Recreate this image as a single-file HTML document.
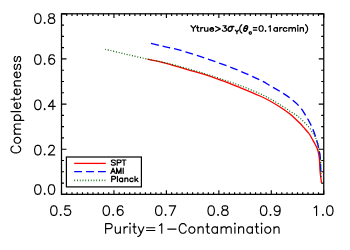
<!DOCTYPE html>
<html><head><meta charset="utf-8"><title>Completeness vs Purity</title>
<style>html,body{margin:0;padding:0;background:#fff;font-family:"Liberation Sans",sans-serif;}svg{display:block}</style>
</head><body>
<svg width="350" height="250" viewBox="0 0 350 250">
<rect x="0" y="0" width="350" height="250" fill="#fff"/>
<path d="M61.50 194.35 V190.25 M61.50 13.80 V17.90 M66.75 194.35 V192.20 M66.75 13.80 V15.95 M71.99 194.35 V192.20 M71.99 13.80 V15.95 M77.24 194.35 V192.20 M77.24 13.80 V15.95 M82.48 194.35 V192.20 M82.48 13.80 V15.95 M87.73 194.35 V192.20 M87.73 13.80 V15.95 M92.97 194.35 V192.20 M92.97 13.80 V15.95 M98.22 194.35 V192.20 M98.22 13.80 V15.95 M103.46 194.35 V192.20 M103.46 13.80 V15.95 M108.70 194.35 V192.20 M108.70 13.80 V15.95 M113.95 194.35 V190.25 M113.95 13.80 V17.90 M119.19 194.35 V192.20 M119.19 13.80 V15.95 M124.44 194.35 V192.20 M124.44 13.80 V15.95 M129.69 194.35 V192.20 M129.69 13.80 V15.95 M134.93 194.35 V192.20 M134.93 13.80 V15.95 M140.18 194.35 V192.20 M140.18 13.80 V15.95 M145.42 194.35 V192.20 M145.42 13.80 V15.95 M150.67 194.35 V192.20 M150.67 13.80 V15.95 M155.91 194.35 V192.20 M155.91 13.80 V15.95 M161.15 194.35 V192.20 M161.15 13.80 V15.95 M166.40 194.35 V190.25 M166.40 13.80 V17.90 M171.64 194.35 V192.20 M171.64 13.80 V15.95 M176.89 194.35 V192.20 M176.89 13.80 V15.95 M182.13 194.35 V192.20 M182.13 13.80 V15.95 M187.38 194.35 V192.20 M187.38 13.80 V15.95 M192.62 194.35 V192.20 M192.62 13.80 V15.95 M197.87 194.35 V192.20 M197.87 13.80 V15.95 M203.12 194.35 V192.20 M203.12 13.80 V15.95 M208.36 194.35 V192.20 M208.36 13.80 V15.95 M213.61 194.35 V192.20 M213.61 13.80 V15.95 M218.85 194.35 V190.25 M218.85 13.80 V17.90 M224.10 194.35 V192.20 M224.10 13.80 V15.95 M229.34 194.35 V192.20 M229.34 13.80 V15.95 M234.59 194.35 V192.20 M234.59 13.80 V15.95 M239.83 194.35 V192.20 M239.83 13.80 V15.95 M245.08 194.35 V192.20 M245.08 13.80 V15.95 M250.32 194.35 V192.20 M250.32 13.80 V15.95 M255.56 194.35 V192.20 M255.56 13.80 V15.95 M260.81 194.35 V192.20 M260.81 13.80 V15.95 M266.06 194.35 V192.20 M266.06 13.80 V15.95 M271.30 194.35 V190.25 M271.30 13.80 V17.90 M276.55 194.35 V192.20 M276.55 13.80 V15.95 M281.79 194.35 V192.20 M281.79 13.80 V15.95 M287.03 194.35 V192.20 M287.03 13.80 V15.95 M292.28 194.35 V192.20 M292.28 13.80 V15.95 M297.52 194.35 V192.20 M297.52 13.80 V15.95 M302.77 194.35 V192.20 M302.77 13.80 V15.95 M308.01 194.35 V192.20 M308.01 13.80 V15.95 M313.26 194.35 V192.20 M313.26 13.80 V15.95 M318.50 194.35 V192.20 M318.50 13.80 V15.95 M323.75 194.35 V190.25 M323.75 13.80 V17.90 M61.50 194.35 H66.50 M323.75 194.35 H318.75 M61.50 183.07 H64.00 M323.75 183.07 H321.25 M61.50 171.78 H64.00 M323.75 171.78 H321.25 M61.50 160.50 H64.00 M323.75 160.50 H321.25 M61.50 149.21 H66.50 M323.75 149.21 H318.75 M61.50 137.93 H64.00 M323.75 137.93 H321.25 M61.50 126.64 H64.00 M323.75 126.64 H321.25 M61.50 115.36 H64.00 M323.75 115.36 H321.25 M61.50 104.08 H66.50 M323.75 104.08 H318.75 M61.50 92.79 H64.00 M323.75 92.79 H321.25 M61.50 81.51 H64.00 M323.75 81.51 H321.25 M61.50 70.22 H64.00 M323.75 70.22 H321.25 M61.50 58.94 H66.50 M323.75 58.94 H318.75 M61.50 47.65 H64.00 M323.75 47.65 H321.25 M61.50 36.37 H64.00 M323.75 36.37 H321.25 M61.50 25.08 H64.00 M323.75 25.08 H321.25 M61.50 13.80 H66.50 M323.75 13.80 H318.75" stroke="#000" stroke-width="1.15" fill="none"/>
<rect x="61.50" y="13.80" width="262.25" height="180.55" fill="none" stroke="#000" stroke-width="1.25"/>
<path transform="translate(60.70 215.40)" d="M-7.31 -9.60 L-8.68 -9.14 L-9.60 -7.77 L-10.05 -5.48 L-10.05 -4.11 L-9.60 -1.83 L-8.68 -0.46 L-7.31 0.00 L-6.40 0.00 L-5.03 -0.46 L-4.11 -1.83 L-3.66 -4.11 L-3.66 -5.48 L-4.11 -7.77 L-5.03 -9.14 L-6.40 -9.60 L-7.31 -9.60 M0.00 -0.91 L-0.46 -0.46 L0.00 0.00 L0.46 -0.46 L0.00 -0.91 M9.14 -9.60 L4.57 -9.60 L4.11 -5.48 L4.57 -5.94 L5.94 -6.40 L7.31 -6.40 L8.68 -5.94 L9.60 -5.03 L10.05 -3.66 L10.05 -2.74 L9.60 -1.37 L8.68 -0.46 L7.31 0.00 L5.94 0.00 L4.57 -0.46 L4.11 -0.91 L3.66 -1.83" fill="none" stroke="#000" stroke-width="1.15" stroke-linecap="round" stroke-linejoin="round"/>
<path transform="translate(113.15 215.40)" d="M-7.31 -9.60 L-8.68 -9.14 L-9.60 -7.77 L-10.05 -5.48 L-10.05 -4.11 L-9.60 -1.83 L-8.68 -0.46 L-7.31 0.00 L-6.40 0.00 L-5.03 -0.46 L-4.11 -1.83 L-3.66 -4.11 L-3.66 -5.48 L-4.11 -7.77 L-5.03 -9.14 L-6.40 -9.60 L-7.31 -9.60 M0.00 -0.91 L-0.46 -0.46 L0.00 0.00 L0.46 -0.46 L0.00 -0.91 M9.60 -8.23 L9.14 -9.14 L7.77 -9.60 L6.86 -9.60 L5.48 -9.14 L4.57 -7.77 L4.11 -5.48 L4.11 -3.20 L4.57 -1.37 L5.48 -0.46 L6.86 0.00 L7.31 0.00 L8.68 -0.46 L9.60 -1.37 L10.05 -2.74 L10.05 -3.20 L9.60 -4.57 L8.68 -5.48 L7.31 -5.94 L6.86 -5.94 L5.48 -5.48 L4.57 -4.57 L4.11 -3.20" fill="none" stroke="#000" stroke-width="1.15" stroke-linecap="round" stroke-linejoin="round"/>
<path transform="translate(165.60 215.40)" d="M-7.31 -9.60 L-8.68 -9.14 L-9.60 -7.77 L-10.05 -5.48 L-10.05 -4.11 L-9.60 -1.83 L-8.68 -0.46 L-7.31 0.00 L-6.40 0.00 L-5.03 -0.46 L-4.11 -1.83 L-3.66 -4.11 L-3.66 -5.48 L-4.11 -7.77 L-5.03 -9.14 L-6.40 -9.60 L-7.31 -9.60 M0.00 -0.91 L-0.46 -0.46 L0.00 0.00 L0.46 -0.46 L0.00 -0.91 M10.05 -9.60 L5.48 0.00 M3.66 -9.60 L10.05 -9.60" fill="none" stroke="#000" stroke-width="1.15" stroke-linecap="round" stroke-linejoin="round"/>
<path transform="translate(218.05 215.40)" d="M-7.31 -9.60 L-8.68 -9.14 L-9.60 -7.77 L-10.05 -5.48 L-10.05 -4.11 L-9.60 -1.83 L-8.68 -0.46 L-7.31 0.00 L-6.40 0.00 L-5.03 -0.46 L-4.11 -1.83 L-3.66 -4.11 L-3.66 -5.48 L-4.11 -7.77 L-5.03 -9.14 L-6.40 -9.60 L-7.31 -9.60 M0.00 -0.91 L-0.46 -0.46 L0.00 0.00 L0.46 -0.46 L0.00 -0.91 M5.94 -9.60 L4.57 -9.14 L4.11 -8.23 L4.11 -7.31 L4.57 -6.40 L5.48 -5.94 L7.31 -5.48 L8.68 -5.03 L9.60 -4.11 L10.05 -3.20 L10.05 -1.83 L9.60 -0.91 L9.14 -0.46 L7.77 0.00 L5.94 0.00 L4.57 -0.46 L4.11 -0.91 L3.66 -1.83 L3.66 -3.20 L4.11 -4.11 L5.03 -5.03 L6.40 -5.48 L8.23 -5.94 L9.14 -6.40 L9.60 -7.31 L9.60 -8.23 L9.14 -9.14 L7.77 -9.60 L5.94 -9.60" fill="none" stroke="#000" stroke-width="1.15" stroke-linecap="round" stroke-linejoin="round"/>
<path transform="translate(270.50 215.40)" d="M-7.31 -9.60 L-8.68 -9.14 L-9.60 -7.77 L-10.05 -5.48 L-10.05 -4.11 L-9.60 -1.83 L-8.68 -0.46 L-7.31 0.00 L-6.40 0.00 L-5.03 -0.46 L-4.11 -1.83 L-3.66 -4.11 L-3.66 -5.48 L-4.11 -7.77 L-5.03 -9.14 L-6.40 -9.60 L-7.31 -9.60 M0.00 -0.91 L-0.46 -0.46 L0.00 0.00 L0.46 -0.46 L0.00 -0.91 M9.60 -6.40 L9.14 -5.03 L8.23 -4.11 L6.86 -3.66 L6.40 -3.66 L5.03 -4.11 L4.11 -5.03 L3.66 -6.40 L3.66 -6.86 L4.11 -8.23 L5.03 -9.14 L6.40 -9.60 L6.86 -9.60 L8.23 -9.14 L9.14 -8.23 L9.60 -6.40 L9.60 -4.11 L9.14 -1.83 L8.23 -0.46 L6.86 0.00 L5.94 0.00 L4.57 -0.46 L4.11 -1.37" fill="none" stroke="#000" stroke-width="1.15" stroke-linecap="round" stroke-linejoin="round"/>
<path transform="translate(322.95 215.40)" d="M-8.68 -7.77 L-7.77 -8.23 L-6.40 -9.60 L-6.40 0.00 M0.00 -0.91 L-0.46 -0.46 L0.00 0.00 L0.46 -0.46 L0.00 -0.91 M6.40 -9.60 L5.03 -9.14 L4.11 -7.77 L3.66 -5.48 L3.66 -4.11 L4.11 -1.83 L5.03 -0.46 L6.40 0.00 L7.31 0.00 L8.68 -0.46 L9.60 -1.83 L10.05 -4.11 L10.05 -5.48 L9.60 -7.77 L8.68 -9.14 L7.31 -9.60 L6.40 -9.60" fill="none" stroke="#000" stroke-width="1.15" stroke-linecap="round" stroke-linejoin="round"/>
<path transform="translate(56.10 23.40)" d="M-18.74 -9.60 L-20.11 -9.14 L-21.02 -7.77 L-21.48 -5.48 L-21.48 -4.11 L-21.02 -1.83 L-20.11 -0.46 L-18.74 0.00 L-17.82 0.00 L-16.45 -0.46 L-15.54 -1.83 L-15.08 -4.11 L-15.08 -5.48 L-15.54 -7.77 L-16.45 -9.14 L-17.82 -9.60 L-18.74 -9.60 M-11.43 -0.91 L-11.88 -0.46 L-11.43 0.00 L-10.97 -0.46 L-11.43 -0.91 M-5.48 -9.60 L-6.86 -9.14 L-7.31 -8.23 L-7.31 -7.31 L-6.86 -6.40 L-5.94 -5.94 L-4.11 -5.48 L-2.74 -5.03 L-1.83 -4.11 L-1.37 -3.20 L-1.37 -1.83 L-1.83 -0.91 L-2.29 -0.46 L-3.66 0.00 L-5.48 0.00 L-6.86 -0.46 L-7.31 -0.91 L-7.77 -1.83 L-7.77 -3.20 L-7.31 -4.11 L-6.40 -5.03 L-5.03 -5.48 L-3.20 -5.94 L-2.29 -6.40 L-1.83 -7.31 L-1.83 -8.23 L-2.29 -9.14 L-3.66 -9.60 L-5.48 -9.60" fill="none" stroke="#000" stroke-width="1.15" stroke-linecap="round" stroke-linejoin="round"/>
<path transform="translate(56.10 64.30)" d="M-18.74 -9.60 L-20.11 -9.14 L-21.02 -7.77 L-21.48 -5.48 L-21.48 -4.11 L-21.02 -1.83 L-20.11 -0.46 L-18.74 0.00 L-17.82 0.00 L-16.45 -0.46 L-15.54 -1.83 L-15.08 -4.11 L-15.08 -5.48 L-15.54 -7.77 L-16.45 -9.14 L-17.82 -9.60 L-18.74 -9.60 M-11.43 -0.91 L-11.88 -0.46 L-11.43 0.00 L-10.97 -0.46 L-11.43 -0.91 M-1.83 -8.23 L-2.29 -9.14 L-3.66 -9.60 L-4.57 -9.60 L-5.94 -9.14 L-6.86 -7.77 L-7.31 -5.48 L-7.31 -3.20 L-6.86 -1.37 L-5.94 -0.46 L-4.57 0.00 L-4.11 0.00 L-2.74 -0.46 L-1.83 -1.37 L-1.37 -2.74 L-1.37 -3.20 L-1.83 -4.57 L-2.74 -5.48 L-4.11 -5.94 L-4.57 -5.94 L-5.94 -5.48 L-6.86 -4.57 L-7.31 -3.20" fill="none" stroke="#000" stroke-width="1.15" stroke-linecap="round" stroke-linejoin="round"/>
<path transform="translate(56.10 109.60)" d="M-18.74 -9.60 L-20.11 -9.14 L-21.02 -7.77 L-21.48 -5.48 L-21.48 -4.11 L-21.02 -1.83 L-20.11 -0.46 L-18.74 0.00 L-17.82 0.00 L-16.45 -0.46 L-15.54 -1.83 L-15.08 -4.11 L-15.08 -5.48 L-15.54 -7.77 L-16.45 -9.14 L-17.82 -9.60 L-18.74 -9.60 M-11.43 -0.91 L-11.88 -0.46 L-11.43 0.00 L-10.97 -0.46 L-11.43 -0.91 M-3.20 -9.60 L-7.77 -3.20 L-0.91 -3.20 M-3.20 -9.60 L-3.20 0.00" fill="none" stroke="#000" stroke-width="1.15" stroke-linecap="round" stroke-linejoin="round"/>
<path transform="translate(56.10 154.90)" d="M-18.74 -9.60 L-20.11 -9.14 L-21.02 -7.77 L-21.48 -5.48 L-21.48 -4.11 L-21.02 -1.83 L-20.11 -0.46 L-18.74 0.00 L-17.82 0.00 L-16.45 -0.46 L-15.54 -1.83 L-15.08 -4.11 L-15.08 -5.48 L-15.54 -7.77 L-16.45 -9.14 L-17.82 -9.60 L-18.74 -9.60 M-11.43 -0.91 L-11.88 -0.46 L-11.43 0.00 L-10.97 -0.46 L-11.43 -0.91 M-7.31 -7.31 L-7.31 -7.77 L-6.86 -8.68 L-6.40 -9.14 L-5.48 -9.60 L-3.66 -9.60 L-2.74 -9.14 L-2.29 -8.68 L-1.83 -7.77 L-1.83 -6.86 L-2.29 -5.94 L-3.20 -4.57 L-7.77 0.00 L-1.37 0.00" fill="none" stroke="#000" stroke-width="1.15" stroke-linecap="round" stroke-linejoin="round"/>
<path transform="translate(56.10 194.30)" d="M-18.74 -9.60 L-20.11 -9.14 L-21.02 -7.77 L-21.48 -5.48 L-21.48 -4.11 L-21.02 -1.83 L-20.11 -0.46 L-18.74 0.00 L-17.82 0.00 L-16.45 -0.46 L-15.54 -1.83 L-15.08 -4.11 L-15.08 -5.48 L-15.54 -7.77 L-16.45 -9.14 L-17.82 -9.60 L-18.74 -9.60 M-11.43 -0.91 L-11.88 -0.46 L-11.43 0.00 L-10.97 -0.46 L-11.43 -0.91 M-5.03 -9.60 L-6.40 -9.14 L-7.31 -7.77 L-7.77 -5.48 L-7.77 -4.11 L-7.31 -1.83 L-6.40 -0.46 L-5.03 0.00 L-4.11 0.00 L-2.74 -0.46 L-1.83 -1.83 L-1.37 -4.11 L-1.37 -5.48 L-1.83 -7.77 L-2.74 -9.14 L-4.11 -9.60 L-5.03 -9.60" fill="none" stroke="#000" stroke-width="1.15" stroke-linecap="round" stroke-linejoin="round"/>
<path transform="translate(103.80 233.20)" d="M1.84 -9.60 L1.84 0.00 M1.84 -9.60 L5.98 -9.60 L7.36 -9.14 L7.82 -8.68 L8.28 -7.77 L8.28 -6.40 L7.82 -5.48 L7.36 -5.03 L5.98 -4.57 L1.84 -4.57 M11.50 -6.40 L11.50 -1.83 L11.96 -0.46 L12.88 0.00 L14.26 0.00 L15.18 -0.46 L16.56 -1.83 M16.56 -6.40 L16.56 0.00 M20.24 -6.40 L20.24 0.00 M20.24 -3.66 L20.70 -5.03 L21.62 -5.94 L22.54 -6.40 L23.92 -6.40 M25.76 -9.60 L26.22 -9.14 L26.68 -9.60 L26.22 -10.05 L25.76 -9.60 M26.22 -6.40 L26.22 0.00 M30.36 -9.60 L30.36 -1.83 L30.82 -0.46 L31.74 0.00 L32.66 0.00 M28.98 -6.40 L32.20 -6.40 M34.50 -6.40 L37.26 0.00 M40.02 -6.40 L37.26 0.00 L36.34 1.83 L35.42 2.74 L34.50 3.20 L34.04 3.20 M42.78 -5.48 L51.06 -5.48 M42.78 -2.74 L51.06 -2.74 M55.66 -7.77 L56.58 -8.23 L57.96 -9.60 L57.96 0.00 M63.94 -4.11 L72.22 -4.11 M82.34 -7.31 L81.88 -8.23 L80.96 -9.14 L80.04 -9.60 L78.20 -9.60 L77.28 -9.14 L76.36 -8.23 L75.90 -7.31 L75.44 -5.94 L75.44 -3.66 L75.90 -2.29 L76.36 -1.37 L77.28 -0.46 L78.20 0.00 L80.04 0.00 L80.96 -0.46 L81.88 -1.37 L82.34 -2.29 M87.40 -6.40 L86.48 -5.94 L85.56 -5.03 L85.10 -3.66 L85.10 -2.74 L85.56 -1.37 L86.48 -0.46 L87.40 0.00 L88.78 0.00 L89.70 -0.46 L90.62 -1.37 L91.08 -2.74 L91.08 -3.66 L90.62 -5.03 L89.70 -5.94 L88.78 -6.40 L87.40 -6.40 M94.30 -6.40 L94.30 0.00 M94.30 -4.57 L95.68 -5.94 L96.60 -6.40 L97.98 -6.40 L98.90 -5.94 L99.36 -4.57 L99.36 0.00 M103.50 -9.60 L103.50 -1.83 L103.96 -0.46 L104.88 0.00 L105.80 0.00 M102.12 -6.40 L105.34 -6.40 M113.62 -6.40 L113.62 0.00 M113.62 -5.03 L112.70 -5.94 L111.78 -6.40 L110.40 -6.40 L109.48 -5.94 L108.56 -5.03 L108.10 -3.66 L108.10 -2.74 L108.56 -1.37 L109.48 -0.46 L110.40 0.00 L111.78 0.00 L112.70 -0.46 L113.62 -1.37 M117.30 -6.40 L117.30 0.00 M117.30 -4.57 L118.68 -5.94 L119.60 -6.40 L120.98 -6.40 L121.90 -5.94 L122.36 -4.57 L122.36 0.00 M122.36 -4.57 L123.74 -5.94 L124.66 -6.40 L126.04 -6.40 L126.96 -5.94 L127.42 -4.57 L127.42 0.00 M130.64 -9.60 L131.10 -9.14 L131.56 -9.60 L131.10 -10.05 L130.64 -9.60 M131.10 -6.40 L131.10 0.00 M134.78 -6.40 L134.78 0.00 M134.78 -4.57 L136.16 -5.94 L137.08 -6.40 L138.46 -6.40 L139.38 -5.94 L139.84 -4.57 L139.84 0.00 M148.58 -6.40 L148.58 0.00 M148.58 -5.03 L147.66 -5.94 L146.74 -6.40 L145.36 -6.40 L144.44 -5.94 L143.52 -5.03 L143.06 -3.66 L143.06 -2.74 L143.52 -1.37 L144.44 -0.46 L145.36 0.00 L146.74 0.00 L147.66 -0.46 L148.58 -1.37 M152.72 -9.60 L152.72 -1.83 L153.18 -0.46 L154.10 0.00 L155.02 0.00 M151.34 -6.40 L154.56 -6.40 M157.32 -9.60 L157.78 -9.14 L158.24 -9.60 L157.78 -10.05 L157.32 -9.60 M157.78 -6.40 L157.78 0.00 M163.30 -6.40 L162.38 -5.94 L161.46 -5.03 L161.00 -3.66 L161.00 -2.74 L161.46 -1.37 L162.38 -0.46 L163.30 0.00 L164.68 0.00 L165.60 -0.46 L166.52 -1.37 L166.98 -2.74 L166.98 -3.66 L166.52 -5.03 L165.60 -5.94 L164.68 -6.40 L163.30 -6.40 M170.20 -6.40 L170.20 0.00 M170.20 -4.57 L171.58 -5.94 L172.50 -6.40 L173.88 -6.40 L174.80 -5.94 L175.26 -4.57 L175.26 0.00" fill="none" stroke="#000" stroke-width="1.15" stroke-linecap="round" stroke-linejoin="round"/>
<path transform="translate(20.60 154.30) rotate(-90)" d="M8.26 -7.31 L7.80 -8.23 L6.89 -9.14 L5.97 -9.60 L4.13 -9.60 L3.21 -9.14 L2.29 -8.23 L1.84 -7.31 L1.38 -5.94 L1.38 -3.66 L1.84 -2.29 L2.29 -1.37 L3.21 -0.46 L4.13 0.00 L5.97 0.00 L6.89 -0.46 L7.80 -1.37 L8.26 -2.29 M13.31 -6.40 L12.39 -5.94 L11.47 -5.03 L11.02 -3.66 L11.02 -2.74 L11.47 -1.37 L12.39 -0.46 L13.31 0.00 L14.69 0.00 L15.61 -0.46 L16.52 -1.37 L16.98 -2.74 L16.98 -3.66 L16.52 -5.03 L15.61 -5.94 L14.69 -6.40 L13.31 -6.40 M20.20 -6.40 L20.20 0.00 M20.20 -4.57 L21.57 -5.94 L22.49 -6.40 L23.87 -6.40 L24.79 -5.94 L25.25 -4.57 L25.25 0.00 M25.25 -4.57 L26.62 -5.94 L27.54 -6.40 L28.92 -6.40 L29.84 -5.94 L30.29 -4.57 L30.29 0.00 M33.97 -6.40 L33.97 3.20 M33.97 -5.03 L34.88 -5.94 L35.80 -6.40 L37.18 -6.40 L38.10 -5.94 L39.02 -5.03 L39.47 -3.66 L39.47 -2.74 L39.02 -1.37 L38.10 -0.46 L37.18 0.00 L35.80 0.00 L34.88 -0.46 L33.97 -1.37 M42.69 -9.60 L42.69 0.00 M45.90 -3.66 L51.41 -3.66 L51.41 -4.57 L50.95 -5.48 L50.49 -5.94 L49.57 -6.40 L48.20 -6.40 L47.28 -5.94 L46.36 -5.03 L45.90 -3.66 L45.90 -2.74 L46.36 -1.37 L47.28 -0.46 L48.20 0.00 L49.57 0.00 L50.49 -0.46 L51.41 -1.37 M55.08 -9.60 L55.08 -1.83 L55.54 -0.46 L56.46 0.00 L57.38 0.00 M53.70 -6.40 L56.92 -6.40 M59.67 -3.66 L65.18 -3.66 L65.18 -4.57 L64.72 -5.48 L64.26 -5.94 L63.34 -6.40 L61.97 -6.40 L61.05 -5.94 L60.13 -5.03 L59.67 -3.66 L59.67 -2.74 L60.13 -1.37 L61.05 -0.46 L61.97 0.00 L63.34 0.00 L64.26 -0.46 L65.18 -1.37 M68.39 -6.40 L68.39 0.00 M68.39 -4.57 L69.77 -5.94 L70.69 -6.40 L72.06 -6.40 L72.98 -5.94 L73.44 -4.57 L73.44 0.00 M76.65 -3.66 L82.16 -3.66 L82.16 -4.57 L81.70 -5.48 L81.24 -5.94 L80.33 -6.40 L78.95 -6.40 L78.03 -5.94 L77.11 -5.03 L76.65 -3.66 L76.65 -2.74 L77.11 -1.37 L78.03 -0.46 L78.95 0.00 L80.33 0.00 L81.24 -0.46 L82.16 -1.37 M89.96 -5.03 L89.51 -5.94 L88.13 -6.40 L86.75 -6.40 L85.37 -5.94 L84.92 -5.03 L85.37 -4.11 L86.29 -3.66 L88.59 -3.20 L89.51 -2.74 L89.96 -1.83 L89.96 -1.37 L89.51 -0.46 L88.13 0.00 L86.75 0.00 L85.37 -0.46 L84.92 -1.37 M97.77 -5.03 L97.31 -5.94 L95.93 -6.40 L94.55 -6.40 L93.18 -5.94 L92.72 -5.03 L93.18 -4.11 L94.09 -3.66 L96.39 -3.20 L97.31 -2.74 L97.77 -1.83 L97.77 -1.37 L97.31 -0.46 L95.93 0.00 L94.55 0.00 L93.18 -0.46 L92.72 -1.37" fill="none" stroke="#000" stroke-width="1.15" stroke-linecap="round" stroke-linejoin="round"/>
<path transform="translate(190.70 31.25)" d="M0.30 -5.50 L2.66 -2.88 L2.66 0.00 M5.03 -5.50 L2.66 -2.88 M6.81 -5.50 L6.81 -1.05 L7.10 -0.26 L7.70 0.00 L8.29 0.00 M5.92 -3.67 L7.99 -3.67 M10.06 -3.67 L10.06 0.00 M10.06 -2.10 L10.36 -2.88 L10.95 -3.41 L11.54 -3.67 L12.43 -3.67 M13.91 -3.67 L13.91 -1.05 L14.21 -0.26 L14.80 0.00 L15.69 0.00 L16.28 -0.26 L17.17 -1.05 M17.17 -3.67 L17.17 0.00 M19.24 -2.10 L22.79 -2.10 L22.79 -2.62 L22.50 -3.14 L22.20 -3.41 L21.61 -3.67 L20.72 -3.67 L20.13 -3.41 L19.54 -2.88 L19.24 -2.10 L19.24 -1.57 L19.54 -0.79 L20.13 -0.26 L20.72 0.00 L21.61 0.00 L22.20 -0.26 L22.79 -0.79 M24.86 -4.72 L29.60 -2.36 L24.86 0.00 M32.26 -5.50 L35.52 -5.50 L33.74 -3.41 L34.63 -3.41 L35.22 -3.14 L35.52 -2.88 L35.82 -2.10 L35.82 -1.57 L35.52 -0.79 L34.93 -0.26 L34.04 0.00 L33.15 0.00 L32.26 -0.26 L31.97 -0.52 L31.67 -1.05 M44.73 -0.98 L46.20 0.67 L46.20 2.49 M47.67 -0.98 L46.20 0.67 M51.11 -6.55 L50.52 -6.03 L49.92 -5.24 L49.33 -4.19 L49.04 -2.88 L49.04 -1.83 L49.33 -0.52 L49.92 0.52 L50.52 1.31 L51.11 1.83 M60.69 1.04 L60.32 0.70 L59.95 0.53 L59.40 0.53 L59.03 0.70 L58.67 1.04 L58.48 1.54 L58.48 1.88 L58.67 2.38 L59.03 2.71 L59.40 2.88 L59.95 2.88 L60.32 2.71 L60.69 2.38 M62.64 -3.54 L66.05 -3.54 M62.64 -1.18 L66.05 -1.18 M70.12 -5.50 L69.23 -5.24 L68.64 -4.45 L68.34 -3.14 L68.34 -2.36 L68.64 -1.05 L69.23 -0.26 L70.12 0.00 L70.71 0.00 L71.60 -0.26 L72.19 -1.05 L72.48 -2.36 L72.48 -3.14 L72.19 -4.45 L71.60 -5.24 L70.71 -5.50 L70.12 -5.50 M74.85 -0.52 L74.56 -0.26 L74.85 0.00 L75.15 -0.26 L74.85 -0.52 M78.11 -4.45 L78.70 -4.72 L79.59 -5.50 L79.59 0.00 M86.69 -3.67 L86.69 0.00 M86.69 -2.88 L86.10 -3.41 L85.51 -3.67 L84.62 -3.67 L84.03 -3.41 L83.44 -2.88 L83.14 -2.10 L83.14 -1.57 L83.44 -0.79 L84.03 -0.26 L84.62 0.00 L85.51 0.00 L86.10 -0.26 L86.69 -0.79 M89.06 -3.67 L89.06 0.00 M89.06 -2.10 L89.36 -2.88 L89.95 -3.41 L90.54 -3.67 L91.43 -3.67 M96.16 -2.88 L95.57 -3.41 L94.98 -3.67 L94.09 -3.67 L93.50 -3.41 L92.91 -2.88 L92.61 -2.10 L92.61 -1.57 L92.91 -0.79 L93.50 -0.26 L94.09 0.00 L94.98 0.00 L95.57 -0.26 L96.16 -0.79 M98.24 -3.67 L98.24 0.00 M98.24 -2.62 L99.12 -3.41 L99.72 -3.67 L100.60 -3.67 L101.20 -3.41 L101.49 -2.62 L101.49 0.00 M101.49 -2.62 L102.38 -3.41 L102.97 -3.67 L103.86 -3.67 L104.45 -3.41 L104.75 -2.62 L104.75 0.00 M106.82 -5.50 L107.12 -5.24 L107.41 -5.50 L107.12 -5.76 L106.82 -5.50 M107.12 -3.67 L107.12 0.00 M109.48 -3.67 L109.48 0.00 M109.48 -2.62 L110.37 -3.41 L110.96 -3.67 L111.85 -3.67 L112.44 -3.41 L112.74 -2.62 L112.74 0.00 M114.81 -6.55 L115.40 -6.03 L116.00 -5.24 L116.59 -4.19 L116.88 -2.88 L116.88 -1.83 L116.59 -0.52 L116.00 0.52 L115.40 1.31 L114.81 1.83" fill="none" stroke="#000" stroke-width="1.22" stroke-linecap="round" stroke-linejoin="round"/>
<path transform="translate(190.70 31.25)" d="M43.17 -4.77 L39.62 -4.77 L38.85 -4.43 L38.04 -3.75 L37.52 -2.72 L37.36 -1.70 L37.56 -0.68 L37.86 -0.34 L38.52 0.00 L39.23 0.00 L39.99 -0.34 L40.81 -1.02 L41.32 -2.04 L41.48 -3.07 L41.29 -4.09 L40.98 -4.43 L40.33 -4.77 M55.49 -5.50 L54.79 -5.24 L54.09 -4.45 L53.74 -3.93 L53.39 -3.14 L53.04 -1.83 L53.04 -0.79 L53.39 -0.26 L53.74 0.00 L54.44 0.00 L55.14 -0.26 L55.84 -1.05 L56.19 -1.57 L56.54 -2.36 L56.89 -3.67 L56.89 -4.72 L56.54 -5.24 L56.19 -5.50 L55.49 -5.50 M53.39 -2.88 L56.54 -2.88" fill="none" stroke="#000" stroke-width="1.40" stroke-linecap="round" stroke-linejoin="round"/>
<rect x="66.4" y="157" width="75" height="29.9" fill="#fff" stroke="#000" stroke-width="1.2"/>
<path d="M74.2 163.4 H105.8" stroke="#f00" stroke-width="1.3"/>
<path d="M74.2 171.6 H105.8" stroke="#00f" stroke-width="1.3" stroke-dasharray="7.8 4.1"/>
<path d="M74.3 180.4 H105.8" stroke="#006400" stroke-width="1.8" stroke-dasharray="0.8 1.95"/>
<path transform="translate(110.60 165.20)" d="M4.66 -4.46 L4.11 -4.96 L3.29 -5.21 L2.19 -5.21 L1.37 -4.96 L0.82 -4.46 L0.82 -3.97 L1.10 -3.47 L1.37 -3.22 L1.92 -2.98 L3.56 -2.48 L4.11 -2.23 L4.38 -1.98 L4.66 -1.49 L4.66 -0.74 L4.11 -0.25 L3.29 0.00 L2.19 0.00 L1.37 -0.25 L0.82 -0.74 M6.58 -5.21 L6.58 0.00 M6.58 -5.21 L9.04 -5.21 L9.86 -4.96 L10.14 -4.71 L10.41 -4.22 L10.41 -3.47 L10.14 -2.98 L9.86 -2.73 L9.04 -2.48 L6.58 -2.48 M13.43 -5.21 L13.43 0.00 M11.51 -5.21 L15.34 -5.21" fill="none" stroke="#000" stroke-width="1.20" stroke-linecap="round" stroke-linejoin="round"/>
<path transform="translate(110.60 173.40)" d="M2.47 -5.21 L0.27 0.00 M2.47 -5.21 L4.66 0.00 M1.10 -1.74 L3.84 -1.74 M6.03 -5.21 L6.03 0.00 M6.03 -5.21 L8.22 0.00 M10.41 -5.21 L8.22 0.00 M10.41 -5.21 L10.41 0.00 M12.60 -5.21 L12.60 0.00" fill="none" stroke="#000" stroke-width="1.20" stroke-linecap="round" stroke-linejoin="round"/>
<path transform="translate(110.60 181.60)" d="M1.10 -5.21 L1.10 0.00 M1.10 -5.21 L3.56 -5.21 L4.38 -4.96 L4.66 -4.71 L4.93 -4.22 L4.93 -3.47 L4.66 -2.98 L4.38 -2.73 L3.56 -2.48 L1.10 -2.48 M6.85 -5.21 L6.85 0.00 M12.06 -3.47 L12.06 0.00 M12.06 -2.73 L11.51 -3.22 L10.96 -3.47 L10.14 -3.47 L9.59 -3.22 L9.04 -2.73 L8.77 -1.98 L8.77 -1.49 L9.04 -0.74 L9.59 -0.25 L10.14 0.00 L10.96 0.00 L11.51 -0.25 L12.06 -0.74 M14.25 -3.47 L14.25 0.00 M14.25 -2.48 L15.07 -3.22 L15.62 -3.47 L16.44 -3.47 L16.99 -3.22 L17.26 -2.48 L17.26 0.00 M22.47 -2.73 L21.92 -3.22 L21.37 -3.47 L20.55 -3.47 L20.00 -3.22 L19.45 -2.73 L19.18 -1.98 L19.18 -1.49 L19.45 -0.74 L20.00 -0.25 L20.55 0.00 L21.37 0.00 L21.92 -0.25 L22.47 -0.74 M24.39 -5.21 L24.39 0.00 M27.13 -3.47 L24.39 -0.99 M25.48 -1.98 L27.40 0.00" fill="none" stroke="#000" stroke-width="1.20" stroke-linecap="round" stroke-linejoin="round"/>
<path d="M147.40 59.20 C149.50 59.63 156.40 60.98 160.00 61.80 C163.60 62.62 165.67 63.18 169.00 64.10 C172.33 65.02 174.83 65.78 180.00 67.30 C185.17 68.82 193.33 71.12 200.00 73.20 C206.67 75.28 213.33 77.40 220.00 79.80 C226.67 82.20 233.33 84.90 240.00 87.60 C246.67 90.30 255.00 93.77 260.00 96.00 C265.00 98.23 266.67 99.17 270.00 101.00 C273.33 102.83 276.67 104.83 280.00 107.00 C283.33 109.17 287.50 112.08 290.00 114.00 C292.50 115.92 293.33 116.95 295.00 118.50 C296.67 120.05 298.33 121.55 300.00 123.30 C301.67 125.05 303.67 127.50 305.00 129.00 C306.33 130.50 307.17 131.30 308.00 132.30 C308.83 133.30 309.25 133.80 310.00 135.00 C310.75 136.20 311.67 138.00 312.50 139.50 C313.33 141.00 314.25 142.58 315.00 144.00 C315.75 145.42 316.42 146.50 317.00 148.00 C317.58 149.50 318.08 151.00 318.50 153.00 C318.92 155.00 319.25 157.17 319.50 160.00 C319.75 162.83 319.82 167.33 320.00 170.00 C320.18 172.67 320.35 173.87 320.60 176.00 C320.85 178.13 321.35 181.67 321.50 182.80" fill="none" stroke="#f00" stroke-width="1.35"/>
<path d="M151.00 43.40 C152.83 43.83 159.00 45.30 162.00 46.00 C165.00 46.70 166.00 46.90 169.00 47.60 C172.00 48.30 174.83 48.73 180.00 50.20 C185.17 51.67 193.33 54.22 200.00 56.40 C206.67 58.58 213.33 60.87 220.00 63.30 C226.67 65.73 233.33 68.22 240.00 71.00 C246.67 73.78 255.00 77.57 260.00 80.00 C265.00 82.43 266.67 83.70 270.00 85.60 C273.33 87.50 276.67 89.33 280.00 91.40 C283.33 93.47 286.67 95.40 290.00 98.00 C293.33 100.60 297.33 104.00 300.00 107.00 C302.67 110.00 304.75 114.08 306.00 116.00 C307.25 117.92 306.67 117.00 307.50 118.50 C308.33 120.00 310.08 123.15 311.00 125.00 C311.92 126.85 312.33 127.93 313.00 129.60 C313.67 131.27 314.42 133.27 315.00 135.00 C315.58 136.73 316.00 138.33 316.50 140.00 C317.00 141.67 317.58 143.33 318.00 145.00 C318.42 146.67 318.67 148.33 319.00 150.00 C319.33 151.67 319.77 153.33 320.00 155.00 C320.23 156.67 320.28 157.50 320.40 160.00 C320.52 162.50 320.60 167.25 320.70 170.00 C320.80 172.75 320.95 175.42 321.00 176.50" fill="none" stroke="#00f" stroke-width="1.35" stroke-dasharray="7.8 4.04"/>
<path d="M105.20 49.30 C108.67 50.12 119.03 52.58 126.00 54.20 C132.97 55.82 139.83 57.43 147.00 59.00 C154.17 60.57 160.17 61.40 169.00 63.60 C177.83 65.80 191.50 69.70 200.00 72.20 C208.50 74.70 213.33 76.38 220.00 78.60 C226.67 80.82 233.33 82.98 240.00 85.50 C246.67 88.02 255.00 91.50 260.00 93.70 C265.00 95.90 266.67 96.88 270.00 98.70 C273.33 100.52 276.67 102.52 280.00 104.60 C283.33 106.68 287.25 109.42 290.00 111.20 C292.75 112.98 294.83 114.15 296.50 115.30 C298.17 116.45 298.58 116.82 300.00 118.10 C301.42 119.38 303.33 121.23 305.00 123.00 C306.67 124.77 308.50 126.70 310.00 128.70 C311.50 130.70 312.92 133.20 314.00 135.00 C315.08 136.80 315.83 137.83 316.50 139.50 C317.17 141.17 317.58 143.25 318.00 145.00 C318.42 146.75 318.67 148.33 319.00 150.00 C319.33 151.67 319.75 153.33 320.00 155.00 C320.25 156.67 320.37 157.50 320.50 160.00 C320.63 162.50 320.70 167.17 320.80 170.00 C320.90 172.83 321.05 175.83 321.10 177.00" fill="none" stroke="#006400" stroke-width="1.2" stroke-dasharray="1.0 1.75"/>
</svg>
</body></html>
